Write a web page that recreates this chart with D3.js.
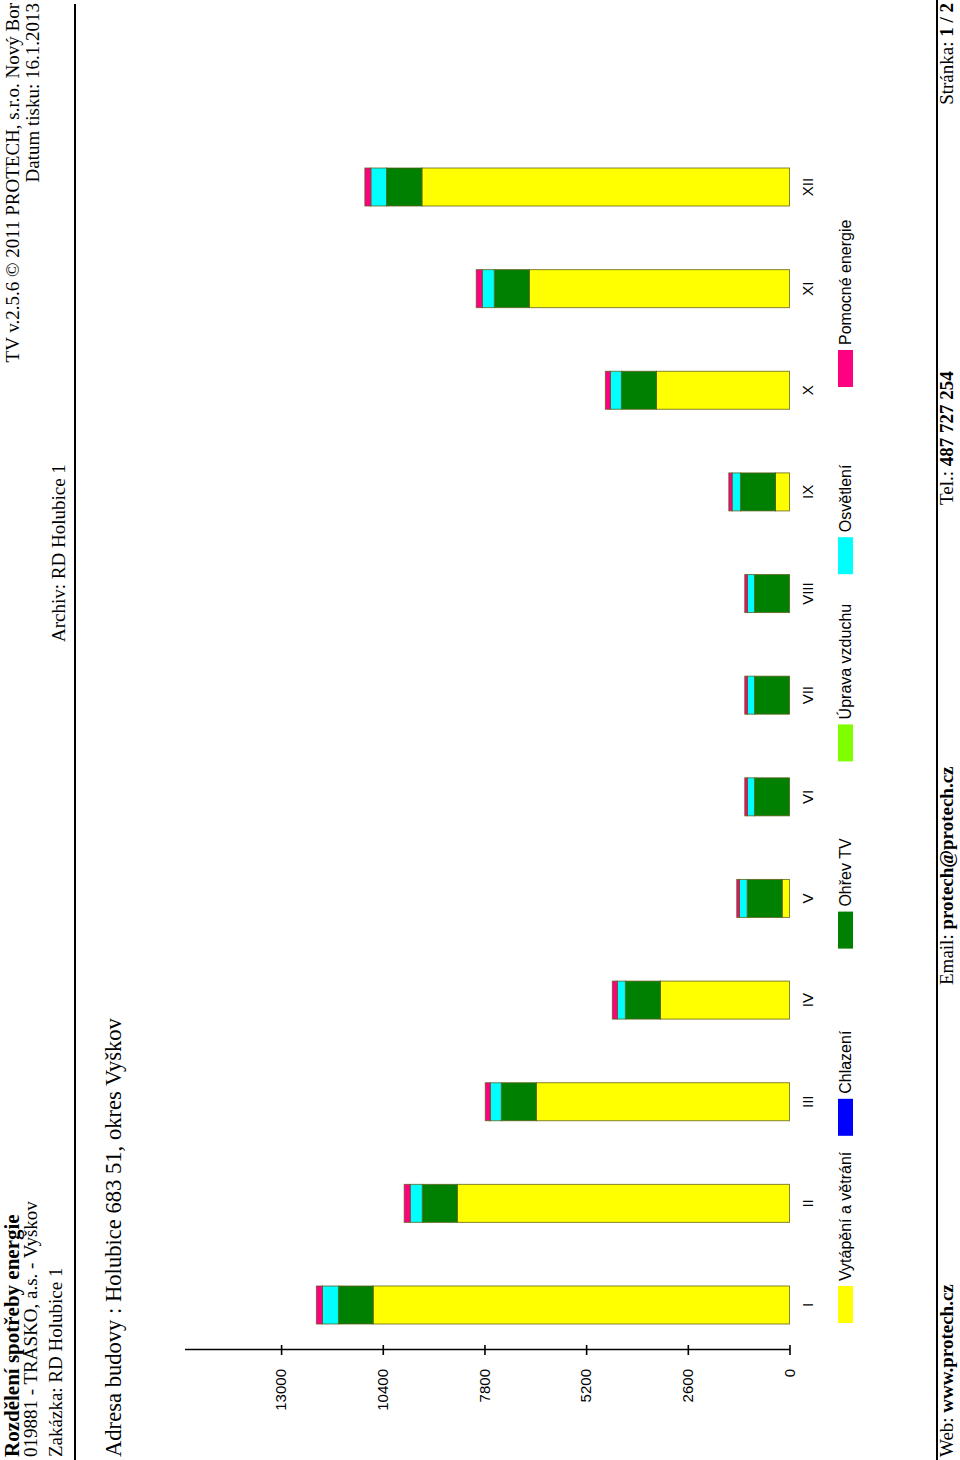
<!DOCTYPE html>
<html><head><meta charset="utf-8">
<script src="https://cdn.jsdelivr.net/npm/d3@7"></script>
<style>body{margin:0;background:#fff}svg{display:block}</style>
</head><body>
<script>
// ---- data ----
const months = ["I","II","III","IV","V","VI","VII","VIII","IX","X","XI","XII"];
const seriesNames = ["Vytápění a větrání","Chlazení","Ohřev TV","Úprava vzduchu","Osvětlení","Pomocné energie"];
const seriesColors = ["#ffff00","#0000ff","#008000","#80ff00","#00ffff","#ff0080"];
const heating      = [10646, 8495, 6474, 3301, 187, 0, 0, 0, 358, 3403, 6653, 9399];
const cooling      = [0, 0, 0, 0, 0, 0, 0, 0, 0, 0, 0, 0];
const hotWater     = [888, 896, 896, 896, 896, 896, 896, 896, 896, 896, 896, 906];
const airTreatment = [0, 0, 0, 0, 0, 0, 0, 0, 0, 0, 0, 0];
const lighting     = [409, 307, 281, 205, 197, 179, 179, 179, 213, 281, 307, 399];
const auxiliary    = [154, 154, 128, 128, 69, 69, 69, 69, 85, 128, 154, 154];
const valueTicks   = [0, 2600, 5200, 7800, 10400, 13000];

const W = 960, H = 1460;
const svg = d3.select("body").append("svg").attr("width", W).attr("height", H);
// page is drawn in landscape and rotated to read bottom-to-top
const g = svg.append("g").attr("transform", `translate(0,${H}) rotate(-90)`);
const serif = "'Liberation Serif','Times New Roman',serif";
const sans = "'Liberation Sans',Arial,sans-serif";

function txt(x, y, s, opts = {}) {
  return g.append("text").attr("x", x).attr("y", y)
    .attr("font-family", opts.family || serif)
    .attr("font-size", opts.size || 19)
    .attr("font-weight", opts.weight || "normal")
    .attr("text-anchor", opts.anchor || "start")
    .attr("fill", "#000").text(s);
}
// header
txt(3, 19, "Rozdělení spotřeby energie", {weight: "bold", size: 21});
txt(3, 37, "019881 - TRASKO, a.s. - Vyškov");
txt(3, 62, "Zakázka: RD Holubice 1");
txt(1457, 19, "TV v.2.5.6 © 2011 PROTECH, s.r.o. Nový Bor", {anchor: "end"});
txt(1457, 39, "Datum tisku: 16.1.2013", {anchor: "end"});
txt(818, 65, "Archiv: RD Holubice 1");
g.append("line").attr("x1", 0).attr("x2", 1456).attr("y1", 75).attr("y2", 75)
  .attr("stroke", "#000").attr("stroke-width", 2);

txt(3, 121, "Adresa budovy : Holubice 683 51, okres Vyškov", {size: 22.6});

// scales
const x = d3.scalePoint().domain(months).range([155, 1273]);
const y = d3.scaleLinear().domain([0, 15470]).range([789.5, 184.5]);
const barW = 38;

const table = months.map((m, i) => ({
  month: m,
  s0: heating[i], s1: cooling[i], s2: hotWater[i],
  s3: airTreatment[i], s4: lighting[i], s5: auxiliary[i]
}));
const keys = ["s0","s1","s2","s3","s4","s5"];
const stacked = d3.stack().keys(keys)(table);

g.append("g").selectAll("g").data(stacked).join("g")
  .attr("fill", (d, i) => seriesColors[i])
  .selectAll("rect").data(d => d).join("rect")
  .attr("x", d => x(d.data.month) - barW / 2)
  .attr("width", barW)
  .attr("y", d => y(d[1]))
  .attr("height", d => y(d[0]) - y(d[1]))
  .attr("stroke", "rgba(90,90,20,0.75)")
  .attr("stroke-width", d => (d[1] - d[0]) > 0 ? 1 : 0);

// value axis
const axis = g.append("g").attr("transform", "translate(110,0)")
  .call(d3.axisLeft(y).tickValues(valueTicks).tickSizeOuter(0).tickSizeInner(5).tickPadding(14).tickFormat(d3.format("d")));
axis.select(".domain").attr("stroke", "#000").attr("stroke-width", 1.6);
axis.selectAll(".tick line").attr("x1", -5).attr("x2", 5).attr("stroke", "#000").attr("stroke-width", 1.6);
axis.selectAll(".tick text").attr("font-family", sans).attr("font-size", 15).attr("fill", "#000");

// category labels
g.append("g").selectAll("text").data(months).join("text")
  .attr("x", d => x(d)).attr("y", 813)
  .attr("text-anchor", "middle")
  .attr("font-family", sans).attr("font-size", 15).attr("fill", "#000")
  .text(d => d);

// legend
const legX = d3.scalePoint().domain(seriesNames).range([137, 1073]);
const leg = g.append("g").selectAll("g").data(seriesNames).join("g")
  .attr("transform", d => `translate(${legX(d)},838)`);
leg.append("rect").attr("width", 37).attr("height", 15)
  .attr("fill", (d, i) => seriesColors[i]);
leg.append("text").attr("x", 42).attr("y", 13)
  .attr("font-family", sans).attr("font-size", 16).attr("fill", "#000")
  .text(d => d);

// footer
g.append("line").attr("x1", 0).attr("x2", 1460).attr("y1", 937).attr("y2", 937)
  .attr("stroke", "#000").attr("stroke-width", 2);
const f1 = txt(3, 953, "Web: ", {size: 19});
f1.append("tspan").attr("font-weight", "bold").text("www.protech.cz");
const f2 = txt(475, 953, "Email: ", {size: 19});
f2.append("tspan").attr("font-weight", "bold").text("protech@protech.cz");
const f3 = txt(955, 953, "Tel.: ", {size: 19});
f3.append("tspan").attr("font-weight", "bold").text("487 727 254");
const f4 = txt(1457, 953, "Stránka: ", {size: 19, anchor: "end"});
f4.append("tspan").attr("font-weight", "bold").text("1 / 2");
</script>
</body></html>
